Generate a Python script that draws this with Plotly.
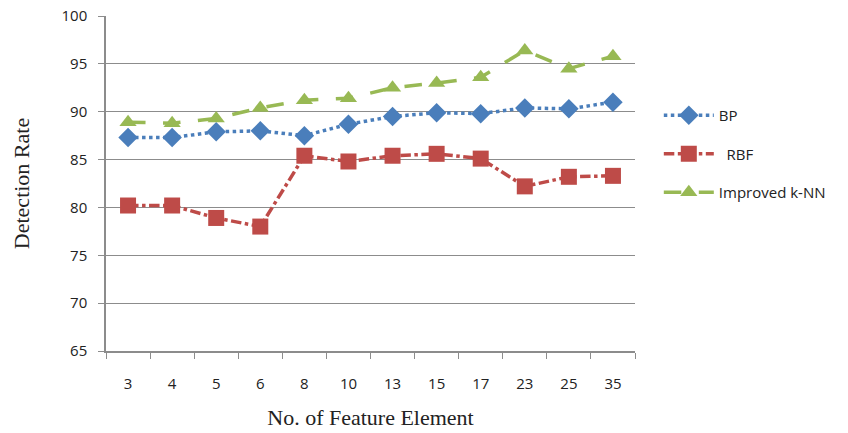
import plotly.graph_objects as go

features = ["3", "4", "5", "6", "8", "10", "13", "15", "17", "23", "25", "35"]
bp = [87.3, 87.3, 87.9, 88.0, 87.5, 88.7, 89.5, 89.9, 89.8, 90.4, 90.3, 91.0]
rbf = [80.2, 80.2, 78.9, 78.0, 85.4, 84.8, 85.4, 85.6, 85.1, 82.2, 83.2, 83.3]
knn = [88.9, 88.8, 89.3, 90.4, 91.2, 91.4, 92.5, 93.0, 93.6, 96.4, 94.5, 95.8]
y_ticks = [65, 70, 75, 80, 85, 90, 95, 100]

fig = go.Figure()
fig.add_trace(go.Scatter(
    x=features, y=bp, name="BP", mode="lines+markers", legendgroup="a",
    line=dict(color="#4a7ebb", width=3.5, dash="dot"),
    marker=dict(symbol="diamond", size=15, color="#4a7ebb")))
fig.add_trace(go.Scatter(
    x=features, y=rbf, name="  RBF", mode="lines+markers", legendgroup="b",
    line=dict(color="#be4b48", width=3.5, dash="dashdot"),
    marker=dict(symbol="square", size=16, color="#be4b48")))
fig.add_trace(go.Scatter(
    x=features, y=knn, name="Improved k-NN", mode="lines+markers", legendgroup="c",
    line=dict(color="#98b954", width=3.5, dash="longdash"),
    marker=dict(symbol="triangle-up", size=15, color="#98b954")))

fig.update_layout(
    width=848, height=433,
    margin=dict(l=106, r=213, t=16, b=82, autoexpand=False),
    paper_bgcolor="white", plot_bgcolor="white",
    font=dict(family="Open Sans, Liberation Sans, sans-serif", size=15, color="#222"),
    legend=dict(x=1.045, xanchor="left", y=0.588, yanchor="middle",
                traceorder="grouped", tracegroupgap=16, itemwidth=50,
                font=dict(size=15, color="#222"), bgcolor="rgba(0,0,0,0)"),
    xaxis=dict(type="category", range=[-0.5, 11.5], showgrid=False, showline=True,
               linecolor="#8c8c8c", linewidth=1.5, ticks="outside", ticklen=6,
               tickcolor="#8c8c8c", tickson="boundaries", ticklabelstandoff=18,
               automargin=False,
               title=dict(text="No. of Feature Element",
                          font=dict(family="Liberation Serif, serif", size=22, color="#222"),
                          standoff=18)),
    yaxis=dict(range=[65, 100], tickvals=y_ticks, showgrid=True, gridcolor="#8c8c8c",
               gridwidth=1.2, showline=True, linecolor="#8c8c8c", linewidth=1.5,
               ticks="outside", ticklen=6, tickcolor="#8c8c8c", zeroline=False,
               ticklabelstandoff=8, automargin=False,
               title=dict(text="Detection Rate",
                          font=dict(family="Liberation Serif, serif", size=22, color="#222"),
                          standoff=26)),
)

fig.write_html("out.html")
